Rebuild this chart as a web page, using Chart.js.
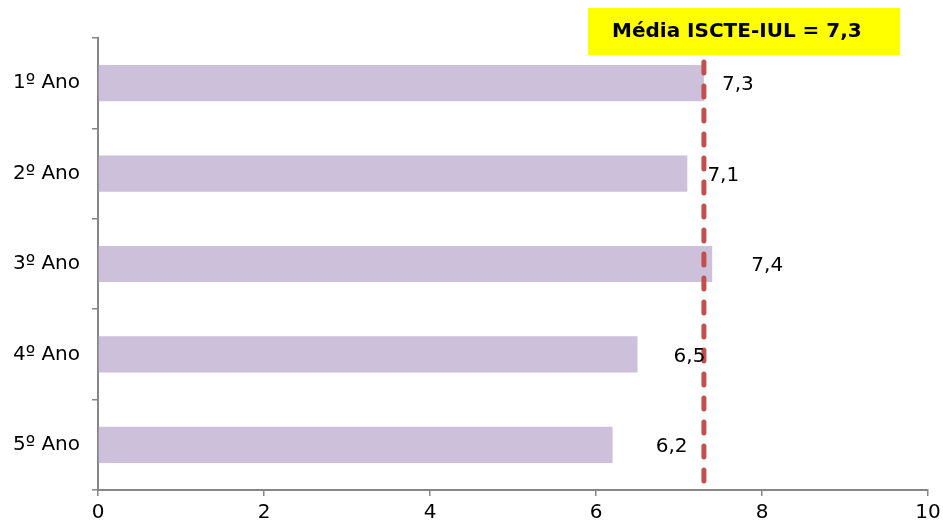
<!DOCTYPE html>
<html>
<head>
<meta charset="utf-8">
<script src="https://cdn.jsdelivr.net/npm/chart.js@4"></script>
<style>
  html, body { margin: 0; padding: 0; background: #fff; }
  #wrap { width: 943px; height: 526px; }
</style>
</head>
<body>
<div id="wrap"><canvas id="myChart"></canvas></div>
<script>
const anos = ['1º Ano', '2º Ano', '3º Ano', '4º Ano', '5º Ano'];
const medias = [7.3, 7.1, 7.4, 6.5, 6.2];
const xTicks = [0, 2, 4, 6, 8, 10];
const mediaISCTE = 7.3;
const mediaLabel = 'Média ISCTE-IUL = 7,3';

const fonte = 'DejaVu Sans, Verdana, sans-serif';

// rotulos com deslocamento manual (como no Excel)
const rotulos = {
  id: 'rotulos',
  afterDatasetsDraw(chart, args, opts) {
    const ctx = chart.ctx;
    const x = chart.scales.x;
    const area = chart.chartArea;

    // linha tracejada da media
    const px = x.getPixelForValue(mediaISCTE);
    ctx.save();
    ctx.strokeStyle = '#C0504D';
    ctx.lineWidth = 5;
    ctx.lineCap = 'round';
    ctx.setLineDash([11, 13]);
    ctx.beginPath();
    ctx.moveTo(px, 14);
    ctx.lineTo(px, area.bottom);
    ctx.stroke();
    ctx.restore();

    // valores
    const meta = chart.getDatasetMeta(0);
    ctx.save();
    ctx.font = '20px ' + fonte;
    ctx.fillStyle = '#000';
    ctx.textAlign = 'center';
    ctx.textBaseline = 'middle';
    meta.data.forEach(function(bar, i) {
      const txt = medias[i].toFixed(1).replace('.', ',');
      ctx.fillText(txt, bar.x + opts.offsets[i], bar.y + 2);
    });
    ctx.restore();

    // caixa amarela
    ctx.save();
    ctx.fillStyle = '#FFFF00';
    ctx.fillRect(588, 8, 312, 47);
    ctx.font = 'bold 20px ' + fonte;
    ctx.fillStyle = '#000';
    ctx.textAlign = 'left';
    ctx.textBaseline = 'middle';
    ctx.fillText(mediaLabel, 612, 32);
    ctx.restore();
  }
};

new Chart(document.getElementById('myChart'), {
  type: 'bar',
  data: {
    labels: anos,
    datasets: [{
      data: medias,
      backgroundColor: '#CCC0DA',
      borderWidth: 0,
      barPercentage: 0.4,
      categoryPercentage: 1
    }]
  },
  options: {
    indexAxis: 'y',
    responsive: true,
    maintainAspectRatio: false,
    animation: false,
    layout: { padding: { top: 38, right: 15, left: 0, bottom: 0 } },
    plugins: {
      legend: { display: false },
      tooltip: { enabled: false },
      rotulos: { offsets: [34, 36, 55, 52, 59] }
    },
    scales: {
      x: {
        min: 0,
        max: 10,
        afterBuildTicks(scale) {
          scale.ticks = xTicks.map(v => ({ value: v }));
        },
        afterFit(scale) {
          scale.height = 36;
          scale.paddingLeft = 0;
          scale.paddingRight = 0;
        },
        border: { color: '#868686', width: 2 },
        grid: { drawOnChartArea: false, color: '#868686', tickLength: 6, lineWidth: 1.5 },
        ticks: { color: '#000', font: { family: fonte, size: 20 }, padding: 5, maxRotation: 0 }
      },
      y: {
        afterFit(scale) { scale.width = 98; },
        border: { color: '#868686', width: 2 },
        grid: { offset: true, drawOnChartArea: false, color: '#868686', tickLength: 6, lineWidth: 1.5 },
        ticks: { color: '#000', font: { family: fonte, size: 20 }, padding: 12 }
      }
    }
  },
  plugins: [rotulos]
});
</script>
</body>
</html>
